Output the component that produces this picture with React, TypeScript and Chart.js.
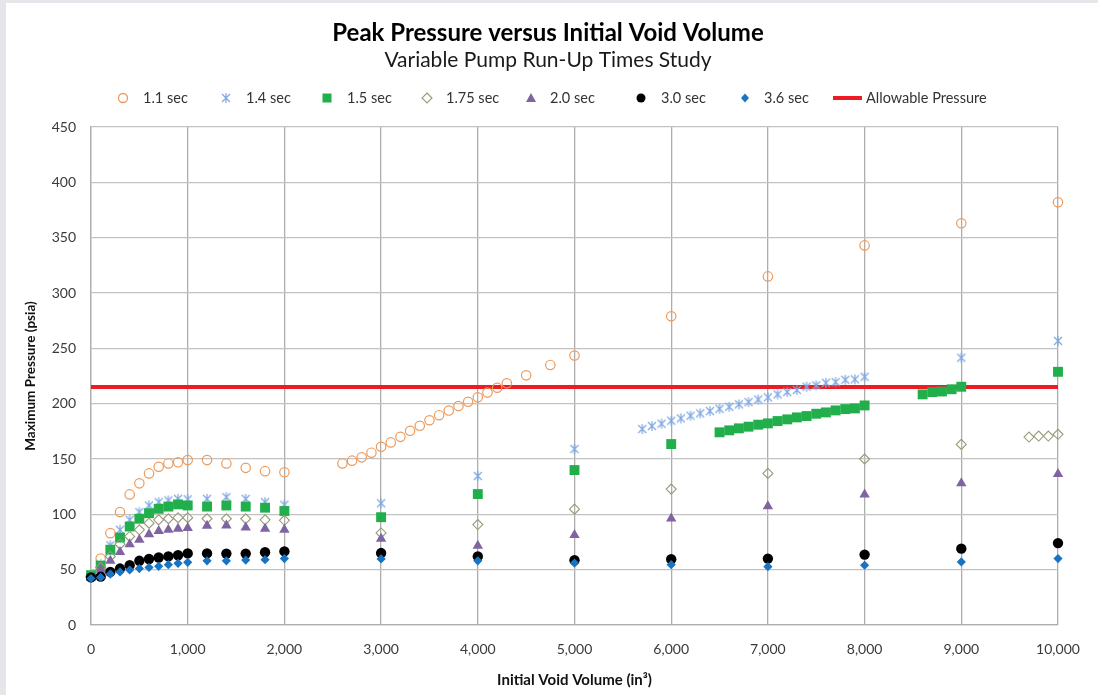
import React, { useEffect, useRef } from 'react';
import { Chart, registerables } from 'chart.js';

Chart.register(...registerables);

// ---------- text ----------
const TITLE = 'Peak Pressure versus Initial Void Volume';
const SUBTITLE = 'Variable Pump Run-Up Times Study';
const X_TITLE = 'Initial Void Volume (in³)';
const Y_TITLE = 'Maximum Pressure (psia)';
const SERIES_LABELS = ['1.1 sec', '1.4 sec', '1.5 sec', '1.75 sec', '2.0 sec', '3.0 sec', '3.6 sec', 'Allowable Pressure'];

// ---------- data ----------
const X_CLUSTER = [0, 100, 200, 300, 400, 500, 600, 700, 800, 900, 1000, 1200, 1400, 1600, 1800, 2000];

const X_1_1 = [
  ...X_CLUSTER,
  2600, 2700, 2800, 2900, 3000, 3100, 3200, 3300, 3400, 3500, 3600, 3700, 3800, 3900, 4000, 4100, 4200, 4300,
  4500, 4750, 5000, 6000, 7000, 8000, 9000, 10000,
];
const Y_1_1 = [
  44, 60, 83, 102, 118, 128, 137, 143, 146, 147, 149, 149, 146, 142, 139, 138,
  146, 148.5, 151.5, 155.7, 161, 165, 170, 175.5, 180, 185, 189.6, 193.8, 197.8, 201.7, 205.7, 210, 214.4, 218.4,
  225.6, 235, 243.5, 279, 315, 343, 363, 382,
];

const X_1_4 = [
  ...X_CLUSTER,
  3000, 4000, 5000,
  5700, 5800, 5900, 6000, 6100, 6200, 6300, 6400, 6500, 6600, 6700, 6800, 6900, 7000, 7100, 7200, 7300, 7400, 7500, 7600, 7700, 7800, 7900, 8000,
  9000, 10000,
];
const Y_1_4 = [
  44, 55, 72, 86, 95, 102, 108, 111, 112.6, 114, 113.6, 114, 115.6, 114, 111, 108.7,
  110, 134.6, 159,
  177.1, 179.8, 181.9, 184.6, 186.7, 189.1, 191.2, 193.3, 195.4, 197.2, 199.4, 201.4, 203.8, 205.7, 208.4, 210.5, 212.3, 215.3, 216.5, 218.9, 219.5, 221.6, 222, 224.3,
  241.5, 256.7,
];

const X_1_5 = [
  ...X_CLUSTER,
  3000, 4000, 5000, 6000,
  6500, 6600, 6700, 6800, 6900, 7000, 7100, 7200, 7300, 7400, 7500, 7600, 7700, 7800, 7900, 8000,
  8600, 8700, 8800, 8900, 9000,
  10000,
];
const Y_1_5 = [
  45, 53.6, 68, 79, 89, 96, 101, 105, 107, 109, 108, 107, 108, 107, 106, 103,
  97.4, 118.3, 140, 163.5,
  174.1, 175.9, 177.7, 179.2, 181, 182.2, 184.3, 185.8, 187.6, 188.8, 190.9, 192.1, 193.9, 195.1, 195.7, 198.4,
  208.4, 210.5, 211, 213, 215.3,
  228.8,
];

const X_1_75 = [...X_CLUSTER, 3000, 4000, 5000, 6000, 7000, 8000, 9000, 9700, 9800, 9900, 10000];
const Y_1_75 = [
  44, 52, 62, 73, 80, 86, 92, 95, 96, 97, 97, 96, 96, 96, 95, 94.6,
  83.2, 90.8, 104.7, 122.8, 137, 150, 163.2, 169.8, 170.7, 170.7, 172.3,
];

const X_2_0 = [...X_CLUSTER, 3000, 4000, 5000, 6000, 7000, 8000, 9000, 10000];
const Y_2_0 = [
  43, 50, 58, 66, 73, 77, 82, 85, 86, 87, 87.6, 89.7, 90, 88, 87, 86,
  78, 71.5, 81.4, 96.2, 107.4, 118, 128, 136.4,
];

const X_3_0 = [...X_CLUSTER, 3000, 4000, 5000, 6000, 7000, 8000, 9000, 10000];
const Y_3_0 = [
  43, 43.7, 48, 51, 54, 58, 59.6, 61, 62, 63, 64.7, 64.7, 64.5, 64.5, 65.7, 66.5,
  65, 62, 58.5, 59.4, 60, 63.6, 69, 74,
];

const X_3_6 = [...X_CLUSTER, 3000, 4000, 5000, 6000, 7000, 8000, 9000, 10000];
const Y_3_6 = [
  42, 43, 46, 48, 49.7, 51, 52, 53, 54.5, 55.7, 56.6, 58, 58, 58.7, 59, 60,
  59.7, 58, 56, 54.5, 52.7, 54, 57, 60,
];

const X_ALLOW = [0, 10000];
const Y_ALLOW = [215, 215];

// ---------- styles ----------
const C_ORANGE = '#EE9A5A';
const C_LBLUE = '#7FA8E2';
const C_GREEN = '#20AF4B';
const C_OLIVE = '#979B77';
const C_PURPLE = '#8064A2';
const C_BLACK = '#000000';
const C_BLUE = '#1874C3';
const C_RED = '#ED1C24';
const FONT = 'Lato, "Open Sans", sans-serif';

function pts(xs: number[], ys: number[]) {
  return xs.map((x, i) => ({ x, y: ys[i] }));
}

function makeStar(): HTMLCanvasElement {
  const c = document.createElement('canvas');
  c.width = 12;
  c.height = 12;
  const g = c.getContext('2d')!;
  g.strokeStyle = C_LBLUE;
  g.lineWidth = 1.2;
  g.beginPath();
  g.moveTo(2, 2); g.lineTo(10, 10);
  g.moveTo(10, 2); g.lineTo(2, 10);
  g.moveTo(6, 1); g.lineTo(6, 11);
  g.stroke();
  return c;
}

function drawMarker(ctx: CanvasRenderingContext2D, kind: string, x: number, y: number, star: HTMLCanvasElement) {
  ctx.save();
  ctx.beginPath();
  if (kind === 'circleHollow') {
    ctx.arc(x, y, 4.5, 0, Math.PI * 2);
    ctx.strokeStyle = C_ORANGE; ctx.lineWidth = 1.3; ctx.stroke();
  } else if (kind === 'star') {
    ctx.drawImage(star, x - 6, y - 6);
  } else if (kind === 'square') {
    ctx.fillStyle = C_GREEN; ctx.fillRect(x - 4.5, y - 4.5, 9, 9);
  } else if (kind === 'diamondHollow') {
    ctx.moveTo(x, y - 5); ctx.lineTo(x + 5, y); ctx.lineTo(x, y + 5); ctx.lineTo(x - 5, y); ctx.closePath();
    ctx.strokeStyle = C_OLIVE; ctx.lineWidth = 1.1; ctx.stroke();
  } else if (kind === 'triangle') {
    ctx.moveTo(x, y - 5); ctx.lineTo(x + 5, y + 4); ctx.lineTo(x - 5, y + 4); ctx.closePath();
    ctx.fillStyle = C_PURPLE; ctx.fill();
  } else if (kind === 'circleFill') {
    ctx.arc(x, y, 4.5, 0, Math.PI * 2);
    ctx.fillStyle = C_BLACK; ctx.fill();
  } else if (kind === 'diamondFill') {
    ctx.moveTo(x, y - 4.5); ctx.lineTo(x + 4, y); ctx.lineTo(x, y + 4.5); ctx.lineTo(x - 4, y); ctx.closePath();
    ctx.fillStyle = C_BLUE; ctx.fill();
  } else if (kind === 'line') {
    ctx.moveTo(x - 14, y); ctx.lineTo(x + 15, y);
    ctx.strokeStyle = C_RED; ctx.lineWidth = 4; ctx.stroke();
  }
  ctx.restore();
}

export default function App() {
  const ref = useRef<HTMLCanvasElement | null>(null);

  useEffect(() => {
    document.body.style.margin = '0';
    const canvas = ref.current;
    if (!canvas) return;
    const star = makeStar();

    const legendKinds = ['circleHollow', 'star', 'square', 'diamondHollow', 'triangle', 'circleFill', 'diamondFill', 'line'];
    const markerX = [117, 220, 321, 421, 525, 635, 739, 841];
    const textX = [137, 240, 341, 440, 544, 655, 758, 860];

    const overlay = {
      id: 'overlay',
      afterDraw(chart: any) {
        const ctx: CanvasRenderingContext2D = chart.ctx;
        ctx.save();
        ctx.textAlign = 'center';
        ctx.textBaseline = 'alphabetic';
        ctx.fillStyle = '#000';
        ctx.font = `bold 24px ${FONT}`;
        ctx.fillText(TITLE, 542, 38);
        ctx.fillStyle = '#1a1a1a';
        ctx.font = `21px ${FONT}`;
        ctx.fillText(SUBTITLE, 542, 64);
        ctx.font = `14.5px ${FONT}`;
        ctx.textAlign = 'left';
        ctx.textBaseline = 'middle';
        const ly = 95;
        for (let i = 0; i < SERIES_LABELS.length; i++) {
          drawMarker(ctx, legendKinds[i], markerX[i], ly, star);
          ctx.fillStyle = '#333';
          ctx.fillText(SERIES_LABELS[i], textX[i], ly);
        }
        ctx.restore();
      },
    };

    const common = { showLine: false, clip: false as any };
    const chart = new Chart(canvas, {
      type: 'scatter',
      data: {
        datasets: [
          {
            label: SERIES_LABELS[7], data: pts(X_ALLOW, Y_ALLOW), showLine: true,
            borderColor: C_RED, borderWidth: 4, pointRadius: 0, order: 100, clip: false as any,
          },
          {
            ...common, label: SERIES_LABELS[0], data: pts(X_1_1, Y_1_1), order: 10,
            pointStyle: 'circle', pointRadius: 4.7, pointBorderWidth: 1.2,
            pointBorderColor: C_ORANGE, pointBackgroundColor: 'rgba(0,0,0,0)',
          },
          {
            ...common, label: SERIES_LABELS[1], data: pts(X_1_4, Y_1_4), order: 9,
            pointStyle: star as any, pointRadius: 6,
            pointBorderColor: C_LBLUE, pointBackgroundColor: C_LBLUE,
          },
          {
            ...common, label: SERIES_LABELS[2], data: pts(X_1_5, Y_1_5), order: 8,
            pointStyle: 'rect', pointRadius: 7, pointBorderWidth: 0,
            pointBorderColor: C_GREEN, pointBackgroundColor: C_GREEN,
          },
          {
            ...common, label: SERIES_LABELS[3], data: pts(X_1_75, Y_1_75), order: 7,
            pointStyle: 'rectRot', pointRadius: 5, pointBorderWidth: 1.1,
            pointBorderColor: C_OLIVE, pointBackgroundColor: 'rgba(0,0,0,0)',
          },
          {
            ...common, label: SERIES_LABELS[4], data: pts(X_2_0, Y_2_0), order: 6,
            pointStyle: 'triangle', pointRadius: 6, pointBorderWidth: 0,
            pointBorderColor: C_PURPLE, pointBackgroundColor: C_PURPLE,
          },
          {
            ...common, label: SERIES_LABELS[5], data: pts(X_3_0, Y_3_0), order: 5,
            pointStyle: 'circle', pointRadius: 5.2, pointBorderWidth: 0,
            pointBorderColor: C_BLACK, pointBackgroundColor: C_BLACK,
          },
          {
            ...common, label: SERIES_LABELS[6], data: pts(X_3_6, Y_3_6), order: 4,
            pointStyle: 'rectRot', pointRadius: 4.6, pointBorderWidth: 0,
            pointBorderColor: C_BLUE, pointBackgroundColor: C_BLUE,
          },
        ],
      },
      options: {
        animation: false,
        responsive: false,
        events: [],
        layout: { padding: { top: 124, right: 40, left: 0, bottom: 0 } },
        plugins: {
          legend: { display: false },
          tooltip: { enabled: false },
          title: { display: false },
        },
        scales: {
          x: {
            type: 'linear',
            min: 0,
            max: 10000,
            ticks: {
              stepSize: 1000,
              padding: 16,
              maxRotation: 0,
              color: '#3a3a3a',
              font: { family: FONT, size: 14 },
              callback: (v: any) => Number(v).toLocaleString('en-US'),
            },
            grid: { color: '#ADADAD', lineWidth: 1.3, drawTicks: false },
            border: { color: '#ADADAD', width: 1.3 },
            title: {
              display: true,
              text: X_TITLE,
              color: '#111',
              font: { family: FONT, size: 15, weight: 'bold' },
              padding: { top: 0, bottom: 6 },
            },
            afterFit: (s: any) => { s.height = 70; },
          },
          y: {
            type: 'linear',
            min: 0,
            max: 450,
            ticks: {
              stepSize: 50,
              padding: 15,
              color: '#3a3a3a',
              font: { family: FONT, size: 14 },
            },
            grid: { color: '#C2C2C2', lineWidth: 1.3, drawTicks: false },
            border: { color: '#ADADAD', width: 1.3 },
            title: {
              display: true,
              text: Y_TITLE,
              color: '#111',
              font: { family: FONT, size: 13.5, weight: 'bold' },
              padding: { top: 17, bottom: 0 },
            },
            afterFit: (s: any) => { s.width = 85; },
          },
        },
      } as any,
      plugins: [overlay],
    });
    return () => chart.destroy();
  }, []);

  return (
    <div style={{ position: 'fixed', left: 0, top: 0, width: 1098, height: 695, background: '#E6E6EA', overflow: 'hidden' }}>
      <div style={{ position: 'absolute', left: 6, top: 3, width: 1092, height: 692, background: '#FFFFFF' }}>
        <canvas ref={ref} width={1092} height={692} style={{ display: 'block', width: 1092, height: 692 }} />
      </div>
    </div>
  );
}
